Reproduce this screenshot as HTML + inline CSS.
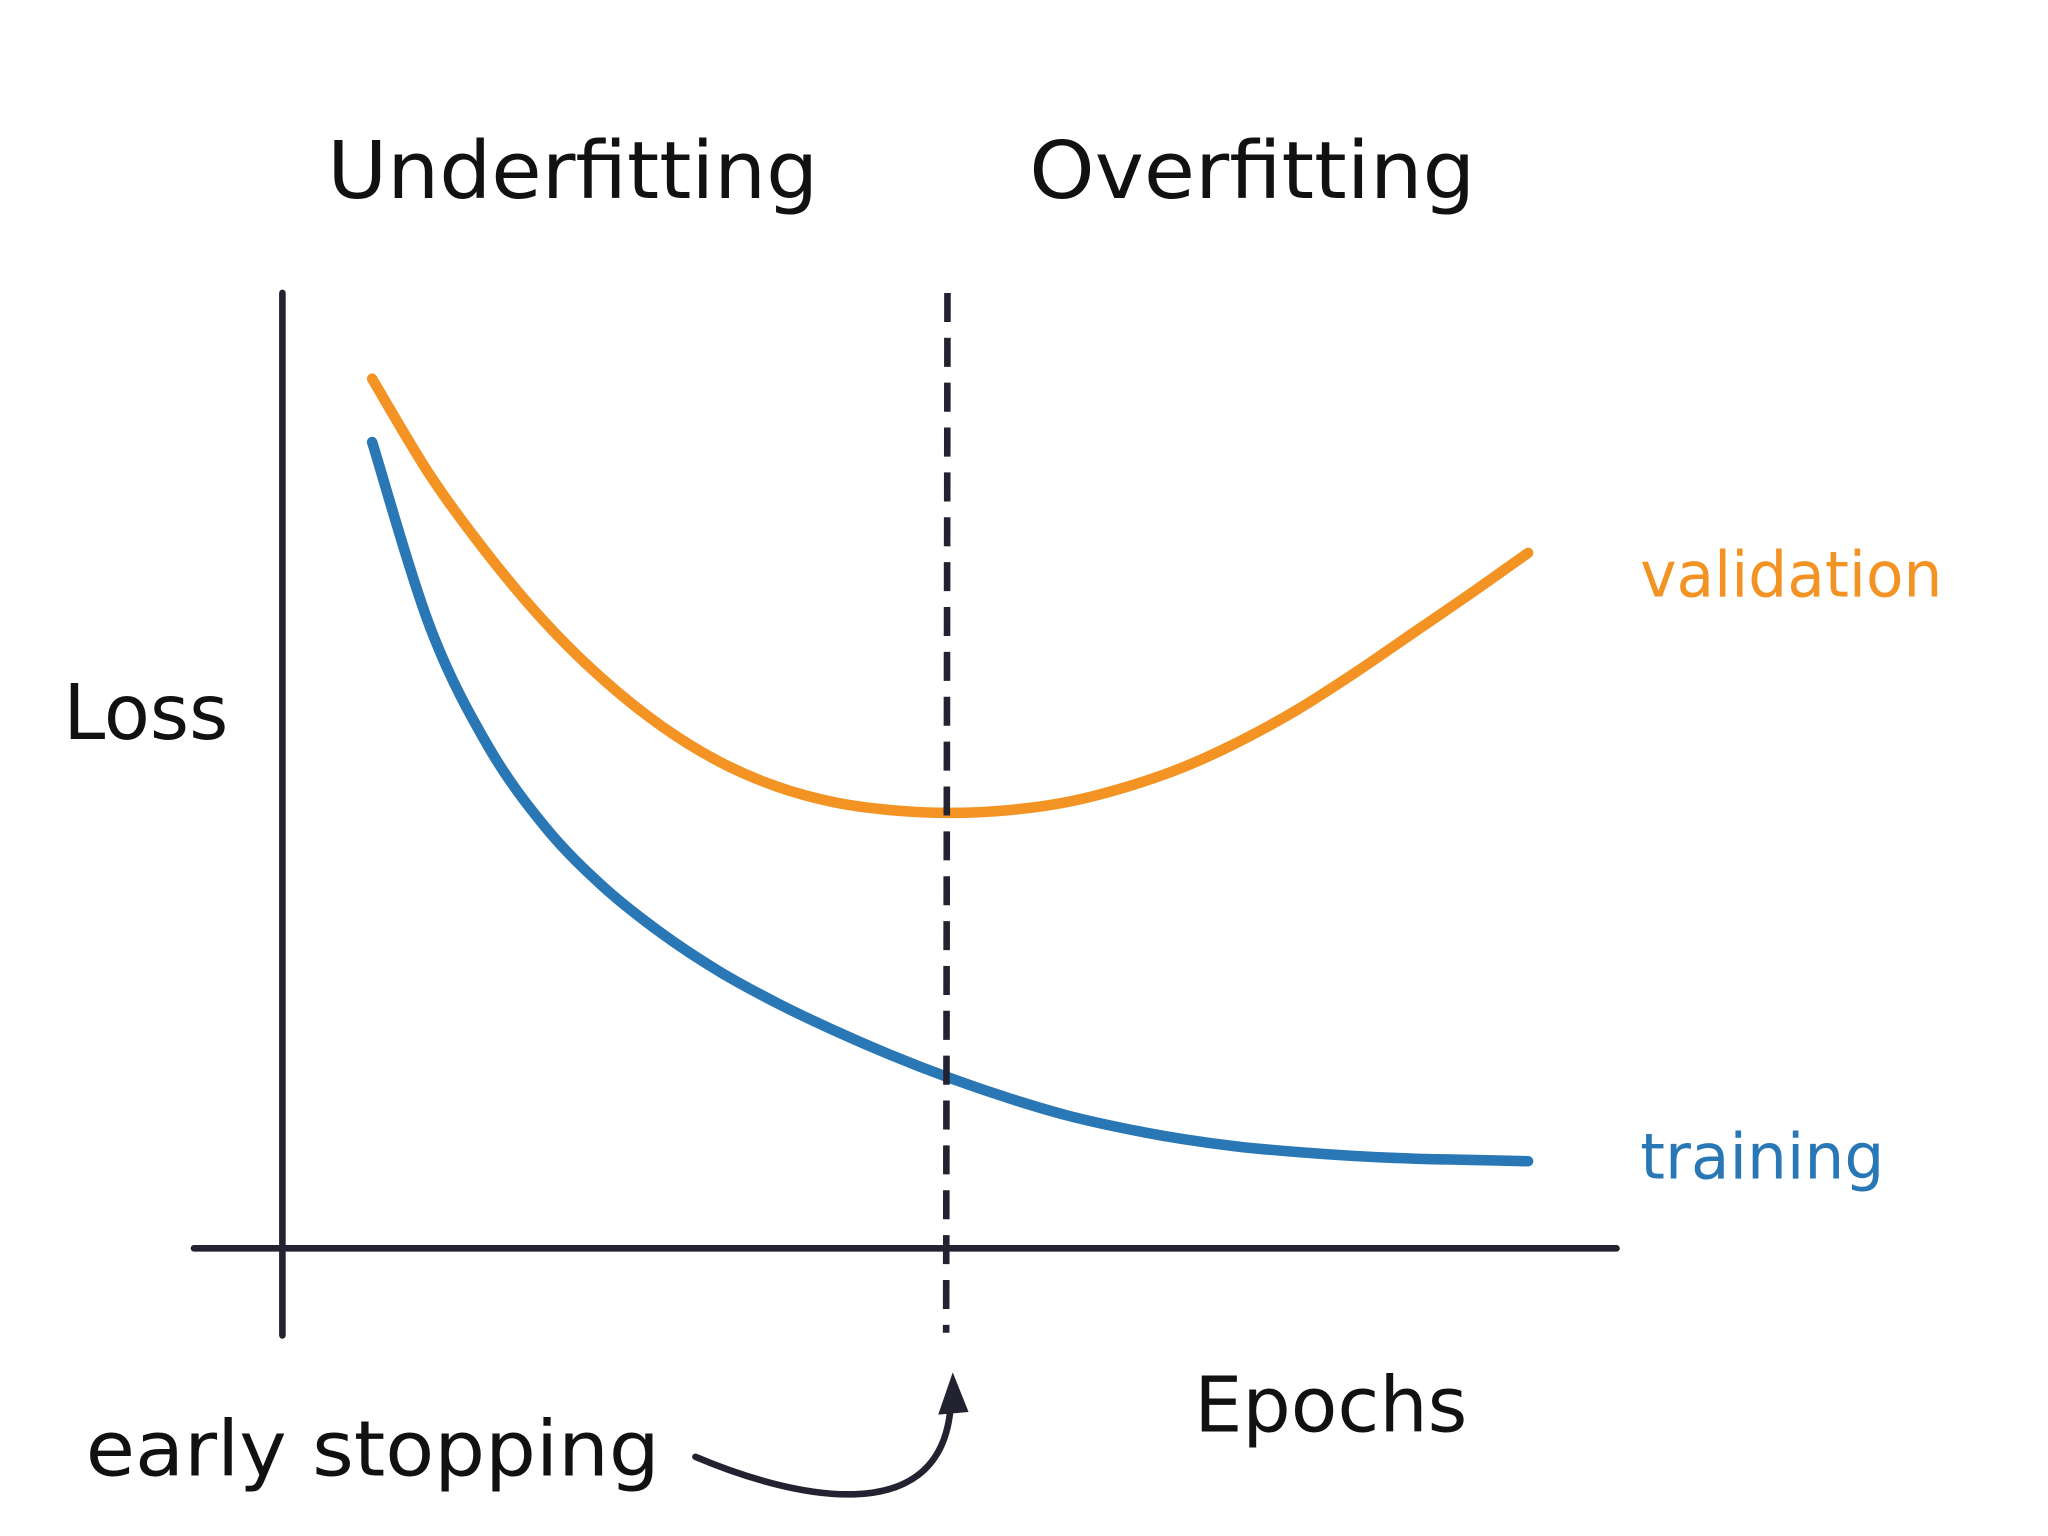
<!DOCTYPE html>
<html><head><meta charset="utf-8"><style>
html,body{margin:0;padding:0;background:#fff;}
svg{display:block;}
text{font-family:"DejaVu Sans","Liberation Sans",sans-serif;}
</style></head><body>
<svg id="chart" width="2048" height="1536" viewBox="0 0 1552 1164" xmlns="http://www.w3.org/2000/svg">
<text x="248" y="150" font-size="60" textLength="372" lengthAdjust="spacingAndGlyphs" fill="#111">Underfitting</text>
<text x="780" y="150" font-size="60" textLength="338" lengthAdjust="spacingAndGlyphs" fill="#111">Overfitting</text>
<text x="48" y="560" font-size="58" textLength="125" lengthAdjust="spacingAndGlyphs" fill="#111">Loss</text>
<text x="905" y="1085" font-size="58" textLength="207" lengthAdjust="spacingAndGlyphs" fill="#111">Epochs</text>
<text x="65" y="1118" font-size="58" textLength="435" lengthAdjust="spacingAndGlyphs" fill="#111">early stopping</text>
<text x="1243" y="452" font-size="48" textLength="229" lengthAdjust="spacingAndGlyphs" fill="#f39324">validation</text>
<text x="1243" y="893" font-size="48" textLength="185" lengthAdjust="spacingAndGlyphs" fill="#2a77b6">training</text>
<line x1="214" y1="222" x2="214" y2="1012" stroke="#222230" stroke-width="5" stroke-linecap="round"/>
<line x1="147" y1="946" x2="1225" y2="946" stroke="#222230" stroke-width="5" stroke-linecap="round"/>
<g id="series"></g>
<line x1="718" y1="222" x2="717" y2="1010" stroke="#222230" stroke-width="5" stroke-dasharray="22,12"/>
<path d="M527,1104 C600,1135 710,1160 720,1070" fill="none" stroke="#222230" stroke-width="5" stroke-linecap="round"/>
<path d="M722,1040 L711,1072 L734,1070 Z" fill="#222230"/>
</svg>
<script>
const epochs=[0,1,2,3,4,5,6,7,8,9,10,11,12,13,14,15,16,17,18,19,20];
const validationLoss=[6.59,5.86,5.26,4.74,4.31,3.96,3.69,3.50,3.38,3.32,3.30,3.32,3.38,3.49,3.64,3.84,4.08,4.36,4.66,4.96,5.27];
const trainingLoss=[6.11,4.71,3.81,3.19,2.74,2.39,2.10,1.86,1.65,1.46,1.29,1.14,1.01,0.91,0.83,0.77,0.73,0.70,0.68,0.67,0.66];
function xs(e){return 282+e*(1158-282)/20;}
function ys(v){return 946-v*100;}
function smooth(xsArr,ysArr){
  const p=xsArr.map((x,i)=>[xs(x),ys(ysArr[i])]);
  let d='M'+p[0][0]+','+p[0][1];
  for(let i=0;i<p.length-1;i++){
    const p0=p[Math.max(0,i-1)],p1=p[i],p2=p[i+1],p3=p[Math.min(p.length-1,i+2)];
    const c1=[p1[0]+(p2[0]-p0[0])/6,p1[1]+(p2[1]-p0[1])/6];
    const c2=[p2[0]-(p3[0]-p1[0])/6,p2[1]-(p3[1]-p1[1])/6];
    d+=' C'+c1[0]+','+c1[1]+' '+c2[0]+','+c2[1]+' '+p2[0]+','+p2[1];
  }
  return d;
}
const g=document.getElementById('series');
function addLine(vals,color,name){
  const path=document.createElementNS('http://www.w3.org/2000/svg','path');
  path.setAttribute('d',smooth(epochs,vals));
  path.setAttribute('fill','none');
  path.setAttribute('stroke',color);
  path.setAttribute('stroke-width','8');
  path.setAttribute('stroke-linecap','round');
  path.setAttribute('stroke-linejoin','round');
  
  
  g.appendChild(path);
}
addLine(validationLoss,'#f39324','validation-line');
addLine(trainingLoss,'#2a77b6','training-line');
</script>
</body></html>
